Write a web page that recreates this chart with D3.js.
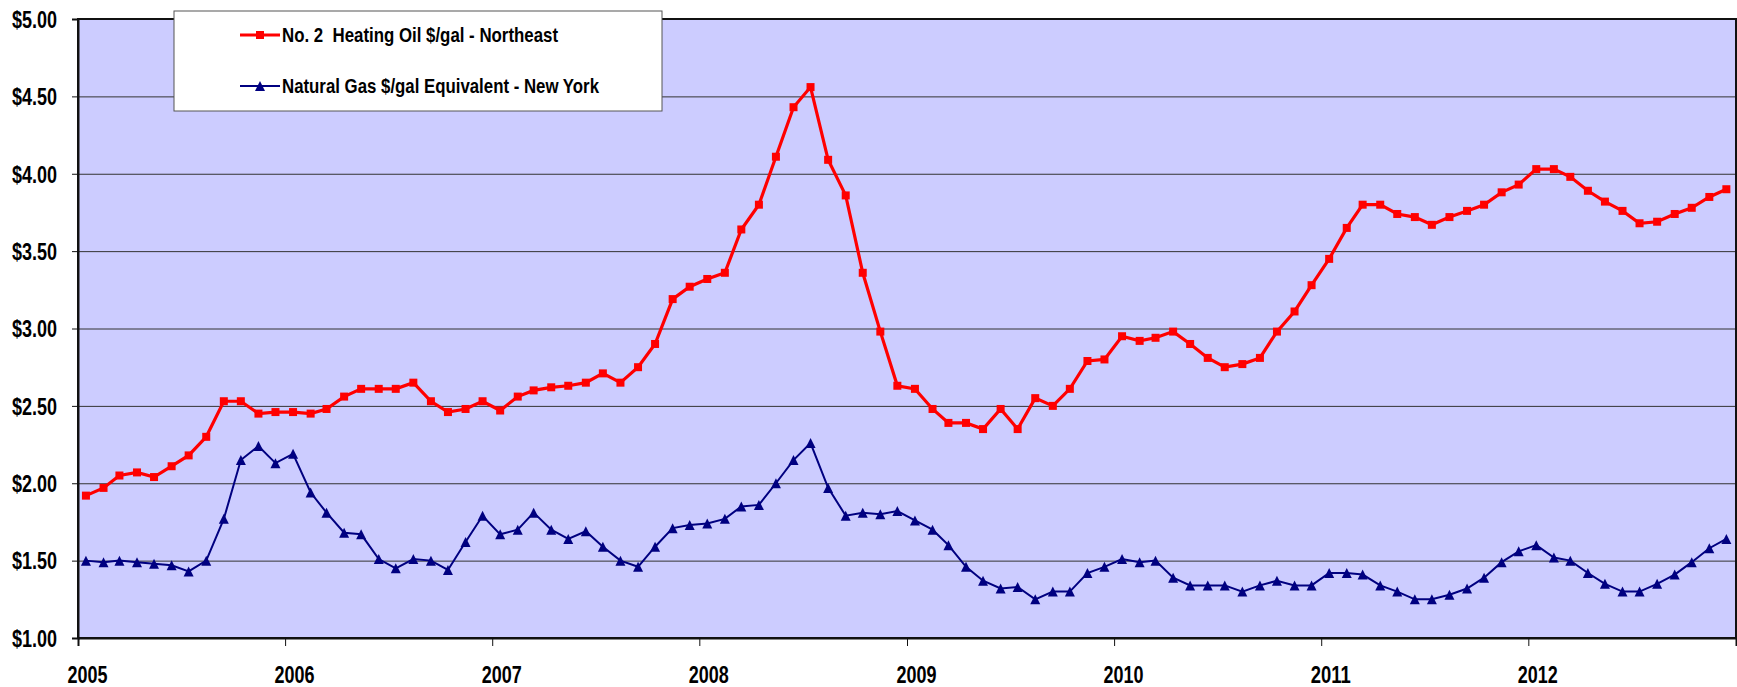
<!DOCTYPE html>
<html>
<head>
<meta charset="utf-8">
<script src="https://cdn.jsdelivr.net/npm/d3@7"></script>
<style>
  body { margin: 0; background: #fff; }
  svg { display: block; font-family: "Liberation Sans", Arial, sans-serif; font-weight: bold; }
</style>
</head>
<body>
<svg id="chart" width="1737" height="687"></svg>
<script>
// monthly prices, Jan 2005 - Dec 2012
var years = [2005, 2006, 2007, 2008, 2009, 2010, 2011, 2012];
var yTicks = [1.0, 1.5, 2.0, 2.5, 3.0, 3.5, 4.0, 4.5, 5.0];
var seriesNames = ["No. 2  Heating Oil $/gal - Northeast", "Natural Gas $/gal Equivalent - New York"];

var heatingOil = [
  1.92, 1.97, 2.05, 2.07, 2.04, 2.11, 2.18, 2.30, 2.53, 2.53, 2.45, 2.46,
  2.46, 2.45, 2.48, 2.56, 2.61, 2.61, 2.61, 2.65, 2.53, 2.46, 2.48, 2.53,
  2.47, 2.56, 2.60, 2.62, 2.63, 2.65, 2.71, 2.65, 2.75, 2.90, 3.19, 3.27,
  3.32, 3.36, 3.64, 3.80, 4.11, 4.43, 4.56, 4.09, 3.86, 3.36, 2.98, 2.63,
  2.61, 2.48, 2.39, 2.39, 2.35, 2.48, 2.35, 2.55, 2.50, 2.61, 2.79, 2.80,
  2.95, 2.92, 2.94, 2.98, 2.90, 2.81, 2.75, 2.77, 2.81, 2.98, 3.11, 3.28,
  3.45, 3.65, 3.80, 3.80, 3.74, 3.72, 3.67, 3.72, 3.76, 3.80, 3.88, 3.93,
  4.03, 4.03, 3.98, 3.89, 3.82, 3.76, 3.68, 3.69, 3.74, 3.78, 3.85, 3.90
];

var naturalGas = [
  1.50, 1.49, 1.50, 1.49, 1.48, 1.47, 1.43, 1.50, 1.77, 2.15, 2.24, 2.13,
  2.19, 1.94, 1.81, 1.68, 1.67, 1.51, 1.45, 1.51, 1.50, 1.44, 1.62, 1.79,
  1.67, 1.70, 1.81, 1.70, 1.64, 1.69, 1.59, 1.50, 1.46, 1.59, 1.71, 1.73,
  1.74, 1.77, 1.85, 1.86, 2.00, 2.15, 2.26, 1.97, 1.79, 1.81, 1.80, 1.82,
  1.76, 1.70, 1.60, 1.46, 1.37, 1.32, 1.33, 1.25, 1.30, 1.30, 1.42, 1.46,
  1.51, 1.49, 1.50, 1.39, 1.34, 1.34, 1.34, 1.30, 1.34, 1.37, 1.34, 1.34,
  1.42, 1.42, 1.41, 1.34, 1.30, 1.25, 1.25, 1.28, 1.32, 1.39, 1.49, 1.56,
  1.60, 1.52, 1.50, 1.42, 1.35, 1.30, 1.30, 1.35, 1.41, 1.49, 1.58, 1.64
];

var plotLeft = 78, plotRight = 1736, plotTop = 19, plotBottom = 638;

var svg = d3.select("#chart");

// points sit in the middle of each month
function toDate(i) { return new Date(years[0] + Math.floor(i / 12), i % 12, 15); }

var x = d3.scaleTime()
  .domain([new Date(years[0], 0, 1), new Date(years[years.length - 1] + 1, 0, 1)])
  .range([plotLeft, plotRight]);

var y = d3.scaleLinear()
  .domain([1, 5])
  .range([plotBottom, plotTop]);

// plot background
svg.append("rect")
  .attr("x", plotLeft).attr("y", plotTop)
  .attr("width", plotRight - plotLeft).attr("height", plotBottom - plotTop)
  .attr("fill", "#ccccff");

// gridlines
svg.append("g")
  .attr("transform", "translate(" + plotLeft + ",0)")
  .call(d3.axisLeft(y).tickValues(yTicks).tickSize(-(plotRight - plotLeft)).tickFormat(""))
  .call(function(g) { g.select(".domain").remove(); })
  .selectAll("line")
  .attr("stroke", "#333")
  .attr("stroke-width", 1);

// plot border
svg.append("rect")
  .attr("x", plotLeft).attr("y", plotTop)
  .attr("width", plotRight - plotLeft).attr("height", plotBottom - plotTop)
  .attr("fill", "none")
  .attr("stroke", "#111")
  .attr("stroke-width", 2);

// y axis
var yAxis = svg.append("g")
  .attr("transform", "translate(" + plotLeft + ",0)")
  .call(d3.axisLeft(y).tickValues(yTicks).tickSize(6).tickPadding(0).tickFormat(d3.format("$.2f")));
yAxis.select(".domain").attr("stroke", "#111").attr("stroke-width", 2);
yAxis.selectAll("line").attr("stroke", "#111");
yAxis.selectAll("text")
  .attr("x", -66)
  .attr("dy", "0.36em")
  .attr("text-anchor", "start")
  .attr("textLength", 45)
  .attr("lengthAdjust", "spacingAndGlyphs")
  .attr("font-size", 23)
  .attr("font-family", "'Liberation Sans', Arial, sans-serif")
  .attr("font-weight", "bold")
  .attr("fill", "#000");

// x axis
var xTicks = years.map(function(yr) { return new Date(yr, 0, 1); });
xTicks.push(new Date(years[years.length - 1] + 1, 0, 1));
var xAxis = svg.append("g")
  .attr("transform", "translate(0," + plotBottom + ")")
  .call(d3.axisBottom(x).tickValues(xTicks).tickSize(8).tickFormat(function(d) {
    return d.getFullYear() <= years[years.length - 1] ? d3.timeFormat("%Y")(d) : "";
  }));
xAxis.select(".domain").attr("stroke", "#111").attr("stroke-width", 2);
xAxis.selectAll("line").attr("stroke", "#111");
xAxis.selectAll("text")
  .attr("x", -11)
  .attr("y", 45)
  .attr("dy", 0)
  .attr("text-anchor", "start")
  .attr("textLength", 40)
  .attr("lengthAdjust", "spacingAndGlyphs")
  .attr("font-size", 24)
  .attr("font-family", "'Liberation Sans', Arial, sans-serif")
  .attr("font-weight", "bold")
  .attr("fill", "#000");

// lines
var priceLine = d3.line()
  .x(function(d, i) { return x(toDate(i)); })
  .y(function(d) { return y(d); });

svg.append("path")
  .datum(naturalGas)
  .attr("d", priceLine)
  .attr("fill", "none")
  .attr("stroke", "#000080")
  .attr("stroke-width", 2);

svg.append("path")
  .datum(heatingOil)
  .attr("d", priceLine)
  .attr("fill", "none")
  .attr("stroke", "#ff0000")
  .attr("stroke-width", 3.2);

// triangle marker, 10 wide by 10 tall, centred on its box
var tallTriangle = {
  draw: function(context, size) {
    var h = Math.sqrt(size) / 2;
    context.moveTo(0, -h);
    context.lineTo(h, h);
    context.lineTo(-h, h);
    context.closePath();
  }
};
var tri = d3.symbol().type(tallTriangle).size(100);

svg.append("g").selectAll("path")
  .data(naturalGas)
  .enter().append("path")
  .attr("d", tri)
  .attr("transform", function(d, i) { return "translate(" + x(toDate(i)) + "," + y(d) + ")"; })
  .attr("fill", "#000080");

svg.append("g").selectAll("rect")
  .data(heatingOil)
  .enter().append("rect")
  .attr("x", function(d, i) { return x(toDate(i)) - 4; })
  .attr("y", function(d) { return y(d) - 4; })
  .attr("width", 8)
  .attr("height", 8)
  .attr("fill", "#ff0000");

// legend
var legend = svg.append("g").attr("transform", "translate(174,11)");
legend.append("rect")
  .attr("width", 488).attr("height", 100)
  .attr("fill", "#fff")
  .attr("stroke", "#555")
  .attr("stroke-width", 1);

var rows = [
  { name: seriesNames[0], color: "#ff0000", w: 3.2, mark: "square", ly: 24, tl: 276 },
  { name: seriesNames[1], color: "#000080", w: 2, mark: "tri", ly: 75, tl: 317 }
];

rows.forEach(function(r) {
  legend.append("line")
    .attr("x1", 66).attr("x2", 106)
    .attr("y1", r.ly).attr("y2", r.ly)
    .attr("stroke", r.color)
    .attr("stroke-width", r.w);
  if (r.mark == "square") {
    legend.append("rect")
      .attr("x", 82).attr("y", r.ly - 4)
      .attr("width", 8).attr("height", 8)
      .attr("fill", r.color);
  } else {
    legend.append("path")
      .attr("d", tri)
      .attr("transform", "translate(86," + r.ly + ")")
      .attr("fill", r.color);
  }
  legend.append("text")
    .attr("x", 108)
    .attr("y", r.ly)
    .attr("dy", "0.36em")
    .attr("font-size", 20.5)
    .attr("textLength", r.tl)
    .attr("lengthAdjust", "spacingAndGlyphs")
    .style("white-space", "pre")
    .text(r.name);
});
</script>
</body>
</html>
